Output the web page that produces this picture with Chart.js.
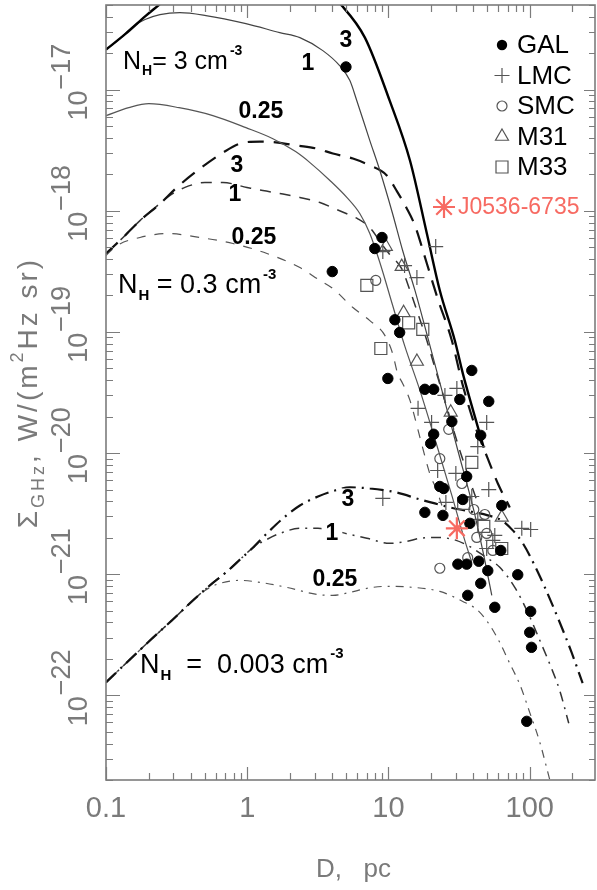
<!DOCTYPE html>
<html>
<head>
<meta charset="utf-8">
<script src="https://cdn.jsdelivr.net/npm/chart.js@4.4.1/dist/chart.umd.min.js"></script>
<style>
  html, body { margin: 0; padding: 0; background: #fff; }
  #wrap { width: 597px; height: 890px; }
</style>
</head>
<body>
<div id="wrap"><canvas id="chart" width="597" height="890"></canvas></div>
<script>
// ---- observed remnants ----
const galX = [5.0, 9.0, 8.0, 4.0, 11.1, 12.0, 9.9, 18.1, 20.9, 38.9, 32.0, 51.3, 28.1, 20.9, 19.9, 45.0, 35.8, 23.1, 24.6, 33.6, 18.1, 24.3, 37.7, 63.4, 62.4, 31.0, 35.8, 43.6, 50.5, 82.3, 45.0, 36.4, 56.6, 101.6, 100, 103, 95.3];
const galY = [1.54e-17, 6.02e-19, 4.88e-19, 3.15e-19, 1.26e-19, 9.9e-20, 4.13e-20, 3.36e-20, 3.36e-20, 4.81e-20, 2.77e-20, 2.67e-20, 1.82e-20, 1.43e-20, 1.20e-20, 1.40e-20, 6.40e-21, 5.30e-21, 5.10e-21, 4.14e-21, 3.24e-21, 3.06e-21, 2.63e-21, 3.69e-21, 1.57e-21, 1.21e-21, 1.21e-21, 1.28e-21, 1.07e-21, 9.9e-22, 8.4e-22, 6.69e-22, 5.33e-22, 4.93e-22, 3.31e-22, 2.49e-22, 6.10e-23];
const lmcX = [21.6, 9.12, 13.0, 15.9, 30.5, 25.1, 16.2, 20.2, 49.6, 42.9, 22.3, 30.0, 51.3, 9.12, 25.5, 38.9, 87.9, 101.6, 54.8, 49.6, 42.9, 56.6];
const lmcY = [5.07e-19, 4.61e-19, 3.53e-19, 2.81e-19, 3.42e-20, 2.99e-20, 2.34e-20, 1.79e-20, 1.79e-20, 1.13e-20, 7.18e-21, 6.79e-21, 5.0e-21, 4.22e-21, 3.91e-21, 4.38e-21, 2.39e-21, 2.34e-21, 1.90e-21, 1.63e-21, 2.83e-21, 2.09e-21];
const smcX = [8.13, 26.7, 23.1, 33.1, 40.2, 48.1, 49.6, 42.2, 54.8, 36.4, 23.1];
const smcY = [2.66e-19, 1.57e-20, 9.0e-21, 5.61e-21, 3.42e-21, 3.11e-21, 2.17e-21, 2.01e-21, 1.57e-21, 1.37e-21, 1.12e-21];
const m31X = [9.58, 12.4, 12.8, 15.9, 27.6, 63.4];
const m31Y = [5.07e-19, 3.46e-19, 1.44e-19, 5.70e-20, 2.17e-20, 2.94e-21];
const m33X = [7.03, 13.9, 17.5, 8.83, 38.9, 34.1, 47.3, 63.4];
const m33Y = [2.42e-19, 1.19e-19, 1.05e-19, 7.30e-20, 8.37e-21, 3.84e-21, 2.48e-21, 1.63e-21];
const j0536X = [30.5];
const j0536Y = [2.39e-21];

// ---- model tracks, N_H = 3 cm^-3 (solid) ----
const solid3X = [0.1, 0.138, 0.192, 0.233, 0.463, 1.70, 3.27, 4.68, 6.81, 10.2, 14.2, 18.7, 23.1, 29.5, 33.6, 42.2, 47.3];
const solid3Y = [2.14e-17, 2.90e-17, 4.09e-17, 4.93e-17, 9.6e-17, 1.16e-16, 7.2e-17, 4.93e-17, 2.69e-17, 8.11e-18, 2.60e-18, 6.49e-19, 2.20e-19, 8.50e-20, 4.55e-20, 1.76e-20, 1.11e-20];
const solid1X = [0.1, 0.1256, 0.155, 0.189, 0.241, 0.334, 0.510, 0.979, 1.70, 2.36, 3.43, 4.53, 5.33, 5.97, 7.38, 8.69, 10.7, 12.6, 15.4, 18.4, 23.9, 31.0, 40.2, 48.1, 53.9];
const solid1Y = [2.14e-17, 2.64e-17, 3.31e-17, 3.79e-17, 4.16e-17, 4.32e-17, 4.09e-17, 3.51e-17, 2.96e-17, 2.69e-17, 2.10e-17, 1.57e-17, 1.19e-17, 8.11e-18, 3.80e-18, 2.15e-18, 9.45e-19, 4.70e-19, 2.20e-19, 1.03e-19, 3.29e-20, 1.05e-20, 3.36e-21, 1.30e-21, 6.69e-22];
const solid025X = [0.1, 0.145, 0.201, 0.329, 0.571, 0.979, 1.52, 2.20, 2.78, 3.85, 5.07, 6.28, 7.38, 8.69, 10.7, 13.0, 16.7, 22.0, 28.1, 34.7, 38.9];
const solid025Y = [6.11e-18, 7.10e-18, 7.66e-18, 7.10e-18, 6.11e-18, 4.86e-18, 3.94e-18, 3.08e-18, 2.50e-18, 1.78e-18, 1.29e-18, 9.45e-19, 6.49e-19, 3.74e-19, 1.66e-19, 7.74e-20, 3.29e-20, 1.16e-20, 4.47e-21, 1.90e-21, 1.25e-21];

// ---- N_H = 0.3 cm^-3 (dashed) ----
const dash3X = [0.1, 0.132, 0.174, 0.241, 0.318, 0.463, 0.673, 0.888, 1.23, 1.65, 2.24, 3.11, 4.04, 5.60, 7.38, 9.73, 11.4, 13.4, 15.4, 18.7, 22.3, 28.1, 33.6, 40.9, 50.5, 59.5, 72.3];
const dash3Y = [4.44e-19, 6.02e-19, 8.30e-19, 1.14e-18, 1.56e-18, 2.23e-18, 3.02e-18, 3.59e-18, 3.73e-18, 3.66e-18, 3.46e-18, 3.26e-18, 2.97e-18, 2.70e-18, 2.37e-18, 1.96e-18, 1.47e-18, 1.06e-18, 7.55e-19, 3.67e-19, 1.89e-19, 8.50e-20, 3.62e-20, 1.69e-20, 9.0e-21, 5.61e-21, 3.56e-21];
const dash1X = [0.1, 0.132, 0.174, 0.222, 0.284, 0.362, 0.502, 0.673, 0.995, 1.29, 1.70, 2.36, 3.27, 4.18, 5.07, 6.07, 7.38, 9.12, 10.2, 12.4, 14.2, 15.9, 18.7, 21.3, 26.3, 32.0, 37.7, 42.2];
const dash1Y = [4.44e-19, 6.02e-19, 8.30e-19, 1.06e-18, 1.34e-18, 1.56e-18, 1.71e-18, 1.71e-18, 1.56e-18, 1.47e-18, 1.39e-18, 1.29e-18, 1.17e-18, 1.04e-18, 9.45e-19, 8.59e-19, 7.27e-19, 5.17e-19, 4.36e-19, 3.33e-19, 2.20e-19, 1.50e-19, 8.50e-20, 5.09e-20, 2.25e-20, 1.05e-20, 5.94e-21, 4.06e-21];
const dash025X = [0.1, 0.1197, 0.174, 0.270, 0.463, 0.793, 1.38, 2.36, 3.27, 4.04, 5.60, 7.38, 9.43, 10.7, 11.6, 12.6, 14.2, 16.7, 19.6, 22.0, 23.9];
const dash025Y = [4.28e-19, 5.17e-19, 6.02e-19, 6.49e-19, 6.02e-19, 5.37e-19, 4.44e-19, 3.40e-19, 2.66e-19, 2.28e-19, 1.59e-19, 1.24e-19, 9.37e-20, 6.64e-20, 4.55e-20, 3.76e-20, 2.72e-20, 1.35e-20, 6.79e-21, 4.91e-21, 3.69e-21];

// ---- N_H = 0.003 cm^-3 (dash-dot) ----
const dd3X = [0.1, 0.148, 0.205, 0.293, 0.413, 0.544, 0.718, 0.888, 1.10, 1.40, 1.79, 2.36, 3.17, 4.18, 5.33, 7.38, 11.4, 16.7, 21.3, 27.2, 37.7, 50.5, 63.4, 75.9, 89.4, 108.5, 128, 163, 198, 237];
const dd3Y = [1.28e-22, 1.98e-22, 2.84e-22, 4.16e-22, 6.08e-22, 8.09e-22, 1.05e-21, 1.32e-21, 1.66e-21, 2.21e-21, 2.89e-21, 3.69e-21, 4.38e-21, 4.91e-21, 5.20e-21, 5.10e-21, 4.73e-21, 4.14e-21, 3.84e-21, 3.56e-21, 3.30e-21, 3.06e-21, 2.78e-21, 2.30e-21, 1.80e-21, 1.18e-21, 7.79e-22, 4.01e-22, 2.26e-22, 1.26e-22];
const dd1X = [0.1, 0.148, 0.205, 0.293, 0.413, 0.544, 0.718, 0.888, 1.10, 1.38, 1.70, 2.36, 3.17, 4.04, 5.33, 7.03, 10.2, 13.4, 16.7, 22.0, 28.6, 37.7, 48.1, 61.4, 78.4, 96.9, 118, 141, 163, 189];
const dd1Y = [1.28e-22, 1.98e-22, 2.84e-22, 4.16e-22, 6.08e-22, 8.09e-22, 1.05e-21, 1.32e-21, 1.66e-21, 1.94e-21, 2.17e-21, 2.39e-21, 2.39e-21, 2.30e-21, 2.13e-21, 1.98e-21, 1.80e-21, 1.86e-21, 1.98e-21, 2.01e-21, 1.94e-21, 1.69e-21, 1.40e-21, 1.14e-21, 7.79e-22, 4.84e-22, 2.84e-22, 1.73e-22, 1.10e-22, 5.88e-23];
const dd025X = [0.1, 0.148, 0.205, 0.293, 0.413, 0.502, 0.641, 0.888, 1.23, 1.90, 3.11, 4.04, 5.33, 7.03, 9.43, 14.9, 23.1, 33.6, 42.9, 52.2, 61.4, 72.3, 85.1, 100, 118, 139];
const dd025Y = [1.28e-22, 1.98e-22, 2.84e-22, 4.16e-22, 6.08e-22, 7.35e-22, 8.40e-22, 8.89e-22, 8.56e-22, 7.79e-22, 6.81e-22, 6.69e-22, 7.08e-22, 7.64e-22, 7.93e-22, 7.79e-22, 7.21e-22, 5.96e-22, 5.03e-22, 3.79e-22, 2.73e-22, 1.83e-22, 1.23e-22, 7.24e-23, 4.09e-23, 1.99e-23];

// axis ticks
const xTickValues = [0.1, 1, 10, 100];
const xTickLabels = ["0.1", "1", "10", "100"];
const yTickExps = [-22, -21, -20, -19, -18, -17];

// text placed on the plot (anchored in data units)
const curveLabels = [
  { text: "3", x: 4.99, y: 2.59e-17 },
  { text: "1", x: 2.69, y: 1.67e-17 },
  { text: "0.25", x: 1.25, y: 6.71e-18 },
  { text: "3", x: 0.846, y: 2.41e-18 },
  { text: "1", x: 0.819, y: 1.39e-18 },
  { text: "0.25", x: 1.115, y: 6.13e-19 },
  { text: "3", x: 5.16, y: 4.22e-21, knockout: true },
  { text: "1", x: 3.98, y: 2.21e-21, knockout: true },
  { text: "0.25", x: 4.18, y: 9.19e-22 },
];
const densityLabels = [
  { mid: "= 3 cm", x: 0.132, y: 1.49e-17, size: 25 },
  { mid: " = 0.3 cm", x: 0.1216, y: 2.08e-19, size: 27 },
  { mid: "  =  0.003 cm", x: 0.174, y: 1.52e-22, size: 27 },
];

const FONT = '"Liberation Sans", Arial, Helvetica, sans-serif';
const RED = "#f76a62";

const zip = (xs, ys) => xs.map((v, i) => ({ x: v, y: ys[i] }));

function curve(xs, ys, color, width, dash) {
  return {
    data: zip(xs, ys),
    showLine: true,
    borderColor: color,
    borderWidth: width,
    borderDash: dash,
    pointRadius: 0,
    pointHoverRadius: 0,
    fill: false,
    cubicInterpolationMode: "monotone",
  };
}

function marks(xs, ys, style, radius, fillColor, lineColor, lineWidth) {
  return {
    data: zip(xs, ys),
    showLine: false,
    pointStyle: style,
    pointRadius: radius,
    pointHoverRadius: radius,
    backgroundColor: fillColor,
    borderColor: lineColor,
    borderWidth: lineWidth,
  };
}

// first dataset is drawn on top
const datasets = [
  marks(j0536X, j0536Y, "star", 11, RED, RED, 2.2),
  marks(galX, galY, "circle", 5.2, "#000", "#000", 1),
  marks(lmcX, lmcY, "cross", 7.5, "rgba(0,0,0,0)", "#555", 1.2),
  marks(smcX, smcY, "circle", 5, "rgba(0,0,0,0)", "#555", 1.2),
  marks(m31X, m31Y, "triangle", 7.5, "rgba(0,0,0,0)", "#555", 1.2),
  marks(m33X, m33Y, "rect", 8.5, "rgba(0,0,0,0)", "#555", 1.2),
  curve(solid3X, solid3Y, "#000", 2.4, []),
  curve(solid1X, solid1Y, "#444", 1.2, []),
  curve(solid025X, solid025Y, "#555", 1.2, []),
  curve(dash3X, dash3Y, "#111", 2.2, [16, 10]),
  curve(dash1X, dash1Y, "#333", 1.5, [11, 9]),
  curve(dash025X, dash025Y, "#555", 1.2, [9, 9]),
  curve(dd3X, dd3Y, "#111", 2.2, [14, 6, 2, 6]),
  curve(dd1X, dd1Y, "#333", 1.5, [10, 6, 2, 6]),
  curve(dd025X, dd025Y, "#555", 1.2, [8, 6, 2, 6]),
];

//LEGEND MARKERS
function drawMark(ctx, kind, x, y) {
  ctx.save();
  ctx.lineWidth = 1.2;
  ctx.strokeStyle = "#555";
  ctx.beginPath();
  if (kind == "gal") {
    ctx.fillStyle = "#000";
    ctx.arc(x, y, 5.2, 0, Math.PI * 2);
    ctx.fill();
  } else if (kind == "lmc") {
    ctx.moveTo(x - 7.5, y); ctx.lineTo(x + 7.5, y);
    ctx.moveTo(x, y - 7.5); ctx.lineTo(x, y + 7.5);
    ctx.stroke();
  } else if (kind == "smc") {
    ctx.arc(x, y, 5, 0, Math.PI * 2);
    ctx.stroke();
  } else if (kind == "m31") {
    const r = 7.5;
    ctx.moveTo(x, y - r);
    ctx.lineTo(x + r * 0.866, y + r * 0.5);
    ctx.lineTo(x - r * 0.866, y + r * 0.5);
    ctx.closePath();
    ctx.stroke();
  } else if (kind == "m33") {
    ctx.rect(x - 6, y - 6, 12, 12);
    ctx.stroke();
  } else if (kind == "star") {
    ctx.strokeStyle = RED;
    ctx.lineWidth = 2.2;
    for (let k = 0; k < 4; k++) {
      const ang = (k * Math.PI) / 4;
      ctx.moveTo(x - Math.cos(ang) * 11, y - Math.sin(ang) * 11);
      ctx.lineTo(x + Math.cos(ang) * 11, y + Math.sin(ang) * 11);
    }
    ctx.stroke();
  }
  ctx.restore();
}

function drawNH(ctx, px, py, mid, size) {
  const small = Math.round(size * 0.55);
  ctx.textAlign = "left";
  ctx.textBaseline = "alphabetic";
  ctx.fillStyle = "#000";
  ctx.font = `${size}px ${FONT}`;
  ctx.fillText("N", px, py);
  let cx = px + ctx.measureText("N").width + 1;
  ctx.font = `bold ${small}px ${FONT}`;
  ctx.fillText("H", cx, py + small * 0.45);
  cx += ctx.measureText("H").width;
  ctx.font = `${size}px ${FONT}`;
  ctx.fillText(mid, cx, py);
  cx += ctx.measureText(mid).width + 2;
  ctx.font = `bold ${small}px ${FONT}`;
  ctx.fillText("-3", cx, py - size * 0.55);
}

const decorations = {
  id: "decorations",
  afterDatasetsDraw(chart) {
    const ctx = chart.ctx;
    const a = chart.chartArea;
    const xs = chart.scales.x;
    const ys = chart.scales.y;
    ctx.save();

    // frame
    ctx.strokeStyle = "#7c7c7c";
    ctx.lineWidth = 1.6;
    ctx.strokeRect(a.left, a.top, a.right - a.left, a.bottom - a.top);

    // inward tick marks, all four sides
    ctx.lineWidth = 1.2;
    ctx.beginPath();
    for (let e = -1; e <= 2; e++) {
      for (let k = 1; k <= 9; k++) {
        const v = k * Math.pow(10, e);
        if (v < xs.min * 0.999 || v > xs.max) continue;
        const px = Math.round(xs.getPixelForValue(v)) + 0.5;
        const len = k == 1 ? 13 : 7;
        ctx.moveTo(px, a.bottom); ctx.lineTo(px, a.bottom - len);
        ctx.moveTo(px, a.top); ctx.lineTo(px, a.top + len);
      }
    }
    for (let e = -23; e <= -17; e++) {
      for (let k = 1; k <= 9; k++) {
        const v = k * Math.pow(10, e);
        if (v < ys.min * 0.999 || v > ys.max * 1.001) continue;
        const py = Math.round(ys.getPixelForValue(v)) + 0.5;
        ctx.moveTo(a.left, py); ctx.lineTo(a.left + (k == 1 ? 14 : 7), py);
        ctx.moveTo(a.right, py); ctx.lineTo(a.right - (k == 1 ? 11 : 6), py);
      }
    }
    ctx.stroke();

    // x tick labels
    ctx.fillStyle = "#7a7a7a";
    ctx.font = `29px ${FONT}`;
    ctx.textAlign = "center";
    ctx.textBaseline = "middle";
    xTickValues.forEach((v, i) => {
      ctx.fillText(xTickLabels[i], xs.getPixelForValue(v), a.bottom + 29);
    });

    // y tick labels: 10^n, rotated
    ctx.font = `27px ${FONT}`;
    ctx.textAlign = "left";
    ctx.textBaseline = "alphabetic";
    yTickExps.forEach((e) => {
      const py = ys.getPixelForValue(Math.pow(10, e));
      const base = "10";
      const exp = "\u2212" + Math.abs(e);
      const wb = ctx.measureText(base).width;
      const we = ctx.measureText(exp).width;
      ctx.save();
      ctx.translate(a.left - 19, py - 7);
      ctx.rotate(-Math.PI / 2);
      const start = -(wb + we) / 2;
      ctx.fillText(base, start, 0);
      ctx.fillText(exp, start + wb + 1, -17);
      ctx.restore();
    });

    // axis titles
    ctx.font = `26px ${FONT}`;
    ctx.textAlign = "center";
    ctx.textBaseline = "middle";
    ctx.fillText("D,   pc", (a.left + a.right) / 2 + 3, a.bottom + 90);

    ctx.save();
    ctx.translate(37, (a.top + a.bottom) / 2);
    ctx.rotate(-Math.PI / 2);
    ctx.textAlign = "left";
    ctx.textBaseline = "alphabetic";
    if ("letterSpacing" in ctx) ctx.letterSpacing = "3px";
    const big = `28px ${FONT}`;
    const sm = `18px ${FONT}`;
    const parts = [
      { t: "\u03A3", f: big, dy: 0 },
      { t: "GHz", f: sm, dy: 7 },
      { t: ", W/(m", f: big, dy: 0 },
      { t: "2", f: sm, dy: -14 },
      { t: "Hz sr)", f: big, dy: 0 },
    ];
    let total = 0;
    parts.forEach((p) => { ctx.font = p.f; p.w = ctx.measureText(p.t).width; total += p.w; });
    let ux = -total / 2;
    parts.forEach((p) => { ctx.font = p.f; ctx.fillText(p.t, ux, p.dy); ux += p.w; });
    ctx.restore();

    // curve labels
    ctx.font = `bold 23px ${FONT}`;
    ctx.textAlign = "center";
    ctx.textBaseline = "middle";
    curveLabels.forEach((l) => {
      const px = xs.getPixelForValue(l.x);
      const py = ys.getPixelForValue(l.y);
      if (l.knockout) {
        const w = ctx.measureText(l.text).width;
        ctx.fillStyle = "#fff";
        ctx.fillRect(px - w / 2 - 4, py - 10, w + 8, 20);
      }
      ctx.fillStyle = "#000";
      ctx.fillText(l.text, px, py + 1);
    });

    // density labels
    densityLabels.forEach((l) => {
      drawNH(ctx, xs.getPixelForValue(l.x), ys.getPixelForValue(l.y), l.mid, l.size);
    });

    // legend
    const lx = a.right - 93;
    const rows = [["gal", "GAL"], ["lmc", "LMC"], ["smc", "SMC"], ["m31", "M31"], ["m33", "M33"]];
    ctx.font = `26px ${FONT}`;
    ctx.textAlign = "left";
    ctx.textBaseline = "middle";
    rows.forEach((r, i) => {
      const yy = a.top + 40 + i * 30.5;
      drawMark(ctx, r[0], lx, yy);
      ctx.fillStyle = "#000";
      ctx.fillText(r[1], lx + 15, yy + 1);
    });
    drawMark(ctx, "star", a.left + 338, a.top + 202);
    ctx.fillStyle = RED;
    ctx.font = `23px ${FONT}`;
    ctx.fillText("J0536-6735", a.left + 352, a.top + 203);

    ctx.restore();
  },
};

const ctx = document.getElementById("chart").getContext("2d");
new Chart(ctx, {
  type: "scatter",
  data: { datasets: datasets },
  options: {
    responsive: false,
    animation: false,
    devicePixelRatio: 1,
    layout: { autoPadding: false, padding: { left: 106, right: 2, top: 5, bottom: 110 } },
    plugins: { legend: { display: false }, tooltip: { enabled: false } },
    scales: {
      x: { type: "logarithmic", min: 0.1, max: 290, display: false },
      y: { type: "logarithmic", min: 2e-23, max: 5e-17, display: false },
    },
  },
  plugins: [decorations],
});
</script>
</body>
</html>
